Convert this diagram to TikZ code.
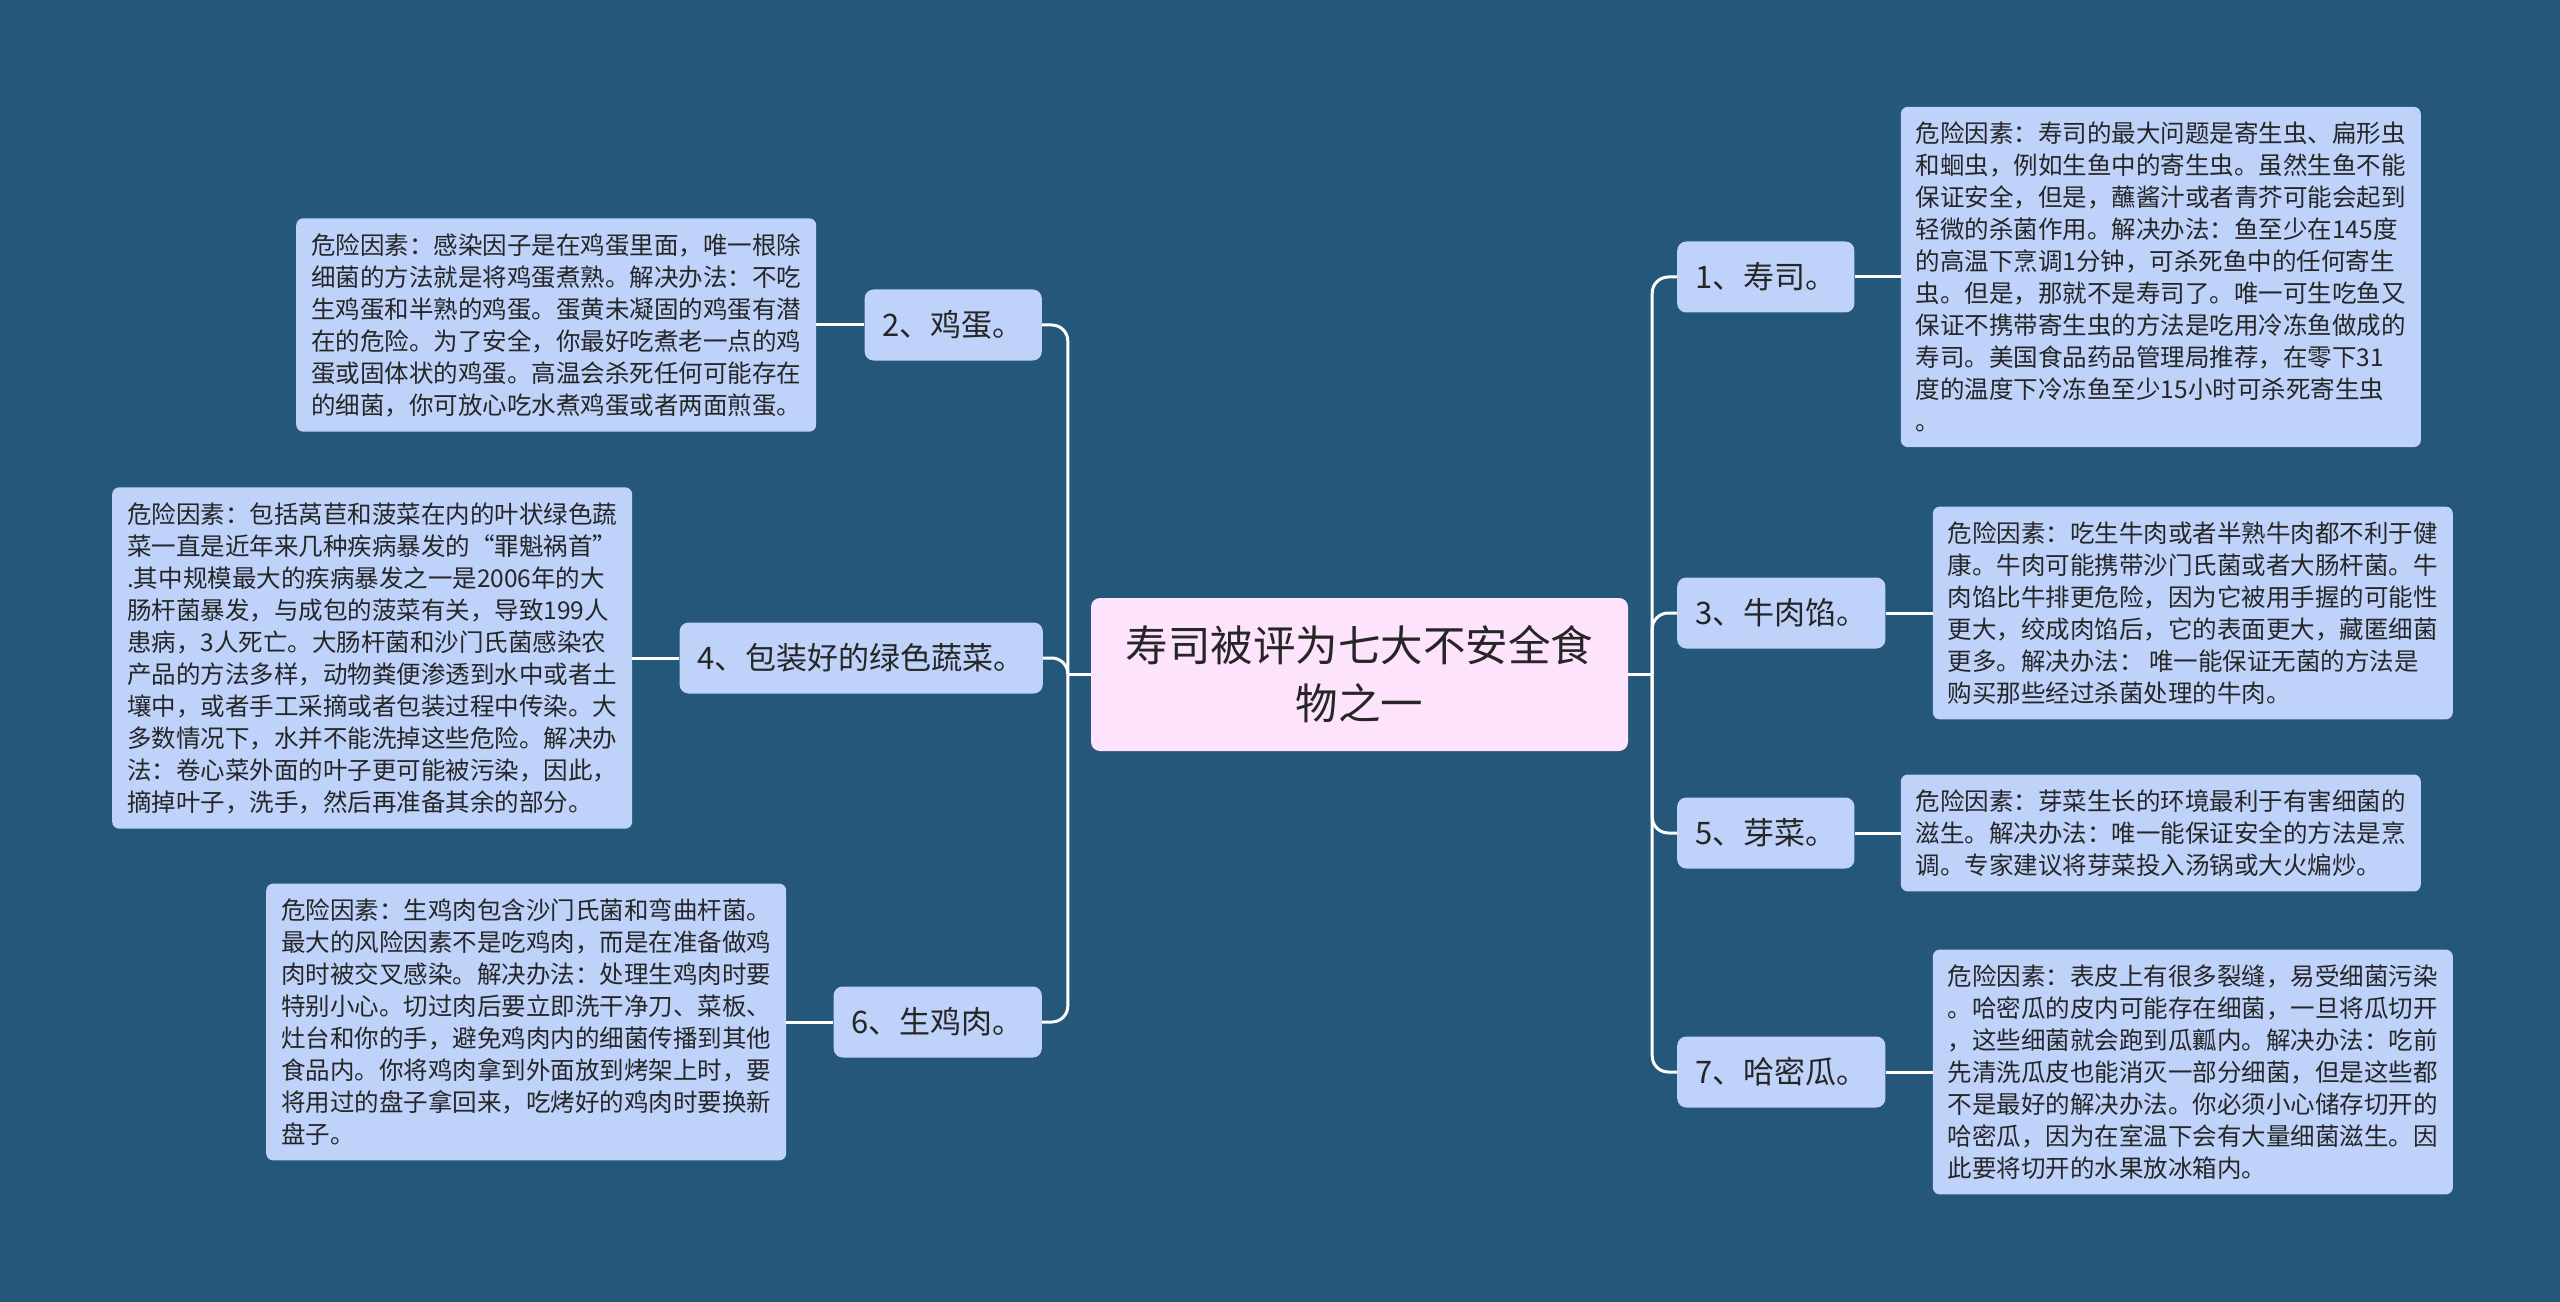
\documentclass[tikz,border=0pt]{standalone}
\usepackage{fontspec}
\setmainfont{Noto Sans CJK SC}
\usetikzlibrary{positioning}
\definecolor{mapBack}{HTML}{245779}
\definecolor{mapTopic}{HTML}{BED2FA}
\definecolor{mapRoot}{HTML}{FDE3FC}
\definecolor{mapInk}{HTML}{262626}

\begin{document}
\begin{tikzpicture}[x=1bp, y=-1bp,
  link/.style={draw=white, line width=3bp, rounded corners=16bp},
  rootbox/.style={fill=mapRoot, rounded corners=9bp, minimum width=537bp, minimum height=153bp,
    align=center, text=mapInk, font=\fontsize{42.5bp}{58bp}\selectfont},
  topicbox/.style={fill=mapTopic, rounded corners=9bp, minimum height=71bp, inner xsep=18bp,
    text=mapInk, font=\fontsize{31bp}{38bp}\selectfont},
  notebox/.style={fill=mapTopic, rounded corners=7bp, minimum width=520bp, inner ysep=15bp,
    align=left, text=mapInk, font=\fontsize{24.5bp}{32bp}\selectfont}]
  \fill[mapBack] (0,0) rectangle (2560,1302);
  \useasboundingbox (0,0) rectangle (2560,1302);

  % centre
  \node[rootbox] (root) at (1359.5,674.5) {寿司被评为七大不安全食\\物之一};

  % left topics
  \node[topicbox, anchor=east] (egg) at (1042,325) {2、鸡蛋。};
  \node[topicbox, anchor=east] (veg) at (1043,658) {4、包装好的绿色蔬菜。};
  \node[topicbox, anchor=east] (chicken) at (1042,1022) {6、生鸡肉。};

  % right topics
  \node[topicbox, anchor=west] (sushi) at (1677,277) {1、寿司。};
  \node[topicbox, anchor=west] (beef) at (1677,613) {3、牛肉馅。};
  \node[topicbox, anchor=west] (sprout) at (1677,833) {5、芽菜。};
  \node[topicbox, anchor=west] (melon) at (1677,1072) {7、哈密瓜。};

  % notes
  \node[notebox, left=48bp of egg] (eggNote) {危险因素：感染因子是在鸡蛋里面，唯一根除\\
    细菌的方法就是将鸡蛋煮熟。解决办法：不吃\\
    生鸡蛋和半熟的鸡蛋。蛋黄未凝固的鸡蛋有潜\\
    在的危险。为了安全，你最好吃煮老一点的鸡\\
    蛋或固体状的鸡蛋。高温会杀死任何可能存在\\
    的细菌，你可放心吃水煮鸡蛋或者两面煎蛋。};
  \node[notebox, left=47bp of veg] (vegNote) {危险因素：包括莴苣和菠菜在内的叶状绿色蔬\\
    菜一直是近年来几种疾病暴发的“罪魁祸首”\\
    .其中规模最大的疾病暴发之一是2006年的大\\
    肠杆菌暴发，与成包的菠菜有关，导致199人\\
    患病，3人死亡。大肠杆菌和沙门氏菌感染农\\
    产品的方法多样，动物粪便渗透到水中或者土\\
    壤中，或者手工采摘或者包装过程中传染。大\\
    多数情况下，水并不能洗掉这些危险。解决办\\
    法：卷心菜外面的叶子更可能被污染，因此，\\
    摘掉叶子，洗手，然后再准备其余的部分。};
  \node[notebox, left=47bp of chicken] (chickenNote) {危险因素：生鸡肉包含沙门氏菌和弯曲杆菌。\\
    最大的风险因素不是吃鸡肉，而是在准备做鸡\\
    肉时被交叉感染。解决办法：处理生鸡肉时要\\
    特别小心。切过肉后要立即洗干净刀、菜板、\\
    灶台和你的手，避免鸡肉内的细菌传播到其他\\
    食品内。你将鸡肉拿到外面放到烤架上时，要\\
    将用过的盘子拿回来，吃烤好的鸡肉时要换新\\
    盘子。};
  \node[notebox, right=46bp of sushi] (sushiNote) {危险因素：寿司的最大问题是寄生虫、扁形虫\\
    和蛔虫，例如生鱼中的寄生虫。虽然生鱼不能\\
    保证安全，但是，蘸酱汁或者青芥可能会起到\\
    轻微的杀菌作用。解决办法：鱼至少在145度\\
    的高温下烹调1分钟，可杀死鱼中的任何寄生\\
    虫。但是，那就不是寿司了。唯一可生吃鱼又\\
    保证不携带寄生虫的方法是吃用冷冻鱼做成的\\
    寿司。美国食品药品管理局推荐，在零下31\\
    度的温度下冷冻鱼至少15小时可杀死寄生虫\\
    。};
  \node[notebox, right=47bp of beef] (beefNote) {危险因素：吃生牛肉或者半熟牛肉都不利于健\\
    康。牛肉可能携带沙门氏菌或者大肠杆菌。牛\\
    肉馅比牛排更危险，因为它被用手握的可能性\\
    更大，绞成肉馅后，它的表面更大，藏匿细菌\\
    更多。解决办法： 唯一能保证无菌的方法是\\
    购买那些经过杀菌处理的牛肉。};
  \node[notebox, right=46bp of sprout] (sproutNote) {危险因素：芽菜生长的环境最利于有害细菌的\\
    滋生。解决办法：唯一能保证安全的方法是烹\\
    调。专家建议将芽菜投入汤锅或大火煸炒。};
  \node[notebox, right=47bp of melon] (melonNote) {危险因素：表皮上有很多裂缝，易受细菌污染\\
    。哈密瓜的皮内可能存在细菌，一旦将瓜切开\\
    ，这些细菌就会跑到瓜瓤内。解决办法：吃前\\
    先清洗瓜皮也能消灭一部分细菌，但是这些都\\
    不是最好的解决办法。你必须小心储存切开的\\
    哈密瓜，因为在室温下会有大量细菌滋生。因\\
    此要将切开的水果放冰箱内。};

  % connectors
  \coordinate (lfork) at ([xshift=-23bp]root.west);
  \coordinate (rfork) at ([xshift=24bp]root.east);
  \draw[link] (root.west) -- (lfork);
  \draw[link] (root.east) -- (rfork);
  \foreach \n in {egg,veg,chicken}
    \draw[link] (lfork) |- (\n.east);
  \foreach \n in {sushi,beef,sprout,melon}
    \draw[link] (rfork) |- (\n.west);
  \foreach \n in {egg,veg,chicken}
    \draw[link] (\n.west) -- (\n Note.east);
  \foreach \n in {sushi,beef,sprout,melon}
    \draw[link] (\n.east) -- (\n Note.west);
\end{tikzpicture}
\end{document}
